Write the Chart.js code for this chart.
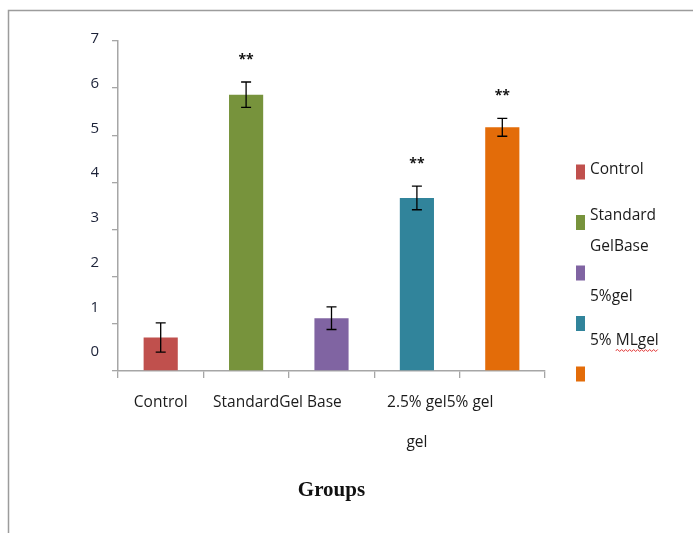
<!DOCTYPE html>
<html><head><meta charset="utf-8">
<script src="https://cdn.jsdelivr.net/npm/chart.js@4/dist/chart.umd.min.js"></script>
<style>html,body{margin:0;padding:0;background:#fff}#wrap{position:relative;width:693px;height:533px}</style>
</head><body><div id="wrap"><canvas id="c" width="693" height="533"></canvas></div>
<script>
// ---- data ----
const categories = ["Control", "Standard Gel Base", "2.5% gel", "5% gel", "5% ML gel"];
const means = [0.71, 5.86, 1.12, 3.67, 5.17];
const errors = [0.31, 0.27, 0.24, 0.25, 0.19];
const significance = ["", "**", "", "**", "**"];
const barColors = ["#C0504D", "#77933C", "#8064A2", "#31849B", "#E36C09"];
const yTickValues = [0, 1, 2, 3, 4, 5, 6, 7];
const xTickText = ["Control", "Standard", "Gel Base", ["2.5% gel", "gel"], "5% gel"];
const legendText = [["Control"], ["Standard", "GelBase"], ["5%gel"], ["5% MLgel"], []];
const xTitle = "Groups";

const TEXT_FONT = '15.5px "Open Sans"';
const TEXT_COLOR = '#1b1b1b';
const AXIS_COLOR = '#a6a6a6';

const framePlugin = {
  id: 'frame',
  beforeDraw(chart) {
    const ctx = chart.ctx;
    ctx.save();
    ctx.strokeStyle = '#9c9c9c';
    ctx.lineWidth = 1.5;
    ctx.beginPath();
    ctx.moveTo(8.5, 533);
    ctx.lineTo(8.5, 10.5);
    ctx.lineTo(693, 10.5);
    ctx.stroke();
    ctx.restore();
  }
};

const errorPlugin = {
  id: 'errorBars',
  afterDatasetsDraw(chart) {
    const ctx = chart.ctx;
    const y = chart.scales.y;
    const meta = chart.getDatasetMeta(0);
    ctx.save();
    ctx.strokeStyle = '#000';
    ctx.lineWidth = 1.3;
    meta.data.forEach((bar, i) => {
      const yt = y.getPixelForValue(means[i] + errors[i]);
      const yb = y.getPixelForValue(means[i] - errors[i]);
      const x = bar.x;
      ctx.beginPath();
      ctx.moveTo(x, yt); ctx.lineTo(x, yb);
      ctx.moveTo(x - 5, yt); ctx.lineTo(x + 5, yt);
      ctx.moveTo(x - 5, yb); ctx.lineTo(x + 5, yb);
      ctx.stroke();
      if (significance[i]) {
        ctx.fillStyle = '#111';
        ctx.font = 'bold 14px "Open Sans"';
        ctx.textAlign = 'center';
        ctx.textBaseline = 'middle';
        ctx.fillText(significance[i], x, yt - 22);
      }
    });
    ctx.restore();
  }
};

const xLabelPlugin = {
  id: 'xLabels',
  afterDraw(chart) {
    const ctx = chart.ctx;
    const xs = chart.scales.x;
    const joinPrev = [false, false, true, false, true];
    ctx.save();
    ctx.font = TEXT_FONT;
    ctx.fillStyle = TEXT_COLOR;
    ctx.textBaseline = 'middle';
    ctx.textAlign = 'left';
    let prevEnd = 0;
    const y1 = xs.top + 32, pitch = 40;
    xTickText.forEach((t, i) => {
      const lines = Array.isArray(t) ? t : [t];
      const cx = xs.getPixelForValue(i);
      const w = ctx.measureText(lines[0]).width;
      const left = joinPrev[i] ? prevEnd : cx - w / 2;
      ctx.fillText(lines[0], left, y1);
      prevEnd = left + w;
      for (let k = 1; k < lines.length; k++) {
        const wk = ctx.measureText(lines[k]).width;
        ctx.fillText(lines[k], cx - wk / 2, y1 + pitch * k);
      }
    });
    ctx.restore();
  }
};

const legendPlugin = {
  id: 'customLegend',
  afterDraw(chart) {
    const ctx = chart.ctx;
    const x0 = 576, top = 172, pitch = 50.5;
    const textOffsets = [-2, -7, 24, 17, 0];
    const linePitch = 31;
    ctx.save();
    ctx.font = TEXT_FONT;
    ctx.textBaseline = 'middle';
    ctx.textAlign = 'left';
    barColors.forEach((c, i) => {
      const cy = top + i * pitch;
      ctx.fillStyle = c;
      ctx.fillRect(x0, cy - 7.5, 9, 15);
      ctx.fillStyle = TEXT_COLOR;
      legendText[i].forEach((line, k) => {
        const ty = cy + textOffsets[i] + k * linePitch;
        ctx.fillText(line, x0 + 14, ty);
        if (line === "5% MLgel") {
          // spell-check squiggle under "MLgel"
          const start = x0 + 14 + ctx.measureText("5% ").width;
          const end = x0 + 14 + ctx.measureText(line).width;
          ctx.strokeStyle = '#e03030';
          ctx.lineWidth = 1;
          ctx.beginPath();
          let up = true;
          ctx.moveTo(start, ty + 10);
          for (let px = start + 2; px <= end; px += 2) { ctx.lineTo(px, ty + (up ? 9 : 11)); up = !up; }
          ctx.stroke();
        }
      });
    });
    ctx.restore();
  }
};

new Chart(document.getElementById('c'), {
  type: 'bar',
  data: {
    labels: categories,
    datasets: [{
      data: means,
      backgroundColor: barColors,
      borderWidth: 0,
      barPercentage: 0.4,
      categoryPercentage: 1.0
    }]
  },
  options: {
    responsive: false,
    animation: false,
    devicePixelRatio: 1,
    layout: { padding: { left: 91, right: 148, top: 41, bottom: 0 } },
    plugins: { legend: { display: false }, tooltip: { enabled: false } },
    scales: {
      x: {
        offset: true,
        grid: { display: true, drawOnChartArea: false, drawTicks: true, tickLength: 7, offset: true, color: AXIS_COLOR, lineWidth: 1.3 },
        border: { display: true, color: AXIS_COLOR, width: 1.5 },
        ticks: { display: false },
        title: {
          display: true, text: xTitle, color: '#111',
          font: { family: '"Liberation Serif"', size: 21, weight: 'bold' },
          padding: { top: 0, bottom: 30 }
        },
        afterFit(s) { s.height = 162; }
      },
      y: {
        min: 0, max: 7, weight: 0,
        ticks: { display: false, stepSize: 1 },
        grid: { display: true, drawOnChartArea: false, drawTicks: true, tickLength: 6, color: AXIS_COLOR, lineWidth: 1.3 },
        border: { display: true, color: AXIS_COLOR, width: 1.5 },
        afterFit(s) { s.width = 6; }
      },
      y2: {
        type: 'linear', position: 'left', weight: 1,
        min: -0.425, max: 6.955,
        grid: { display: false, drawTicks: false, tickLength: 0 },
        border: { display: false },
        ticks: { color: '#1c2238', font: { family: '"Open Sans"', size: 15 }, padding: 13 },
        afterBuildTicks(s) { s.ticks = yTickValues.map(v => ({ value: v })); },
        afterFit(s) { s.width = 21; }
      }
    }
  },
  plugins: [framePlugin, errorPlugin, xLabelPlugin, legendPlugin]
});
</script></body></html>
